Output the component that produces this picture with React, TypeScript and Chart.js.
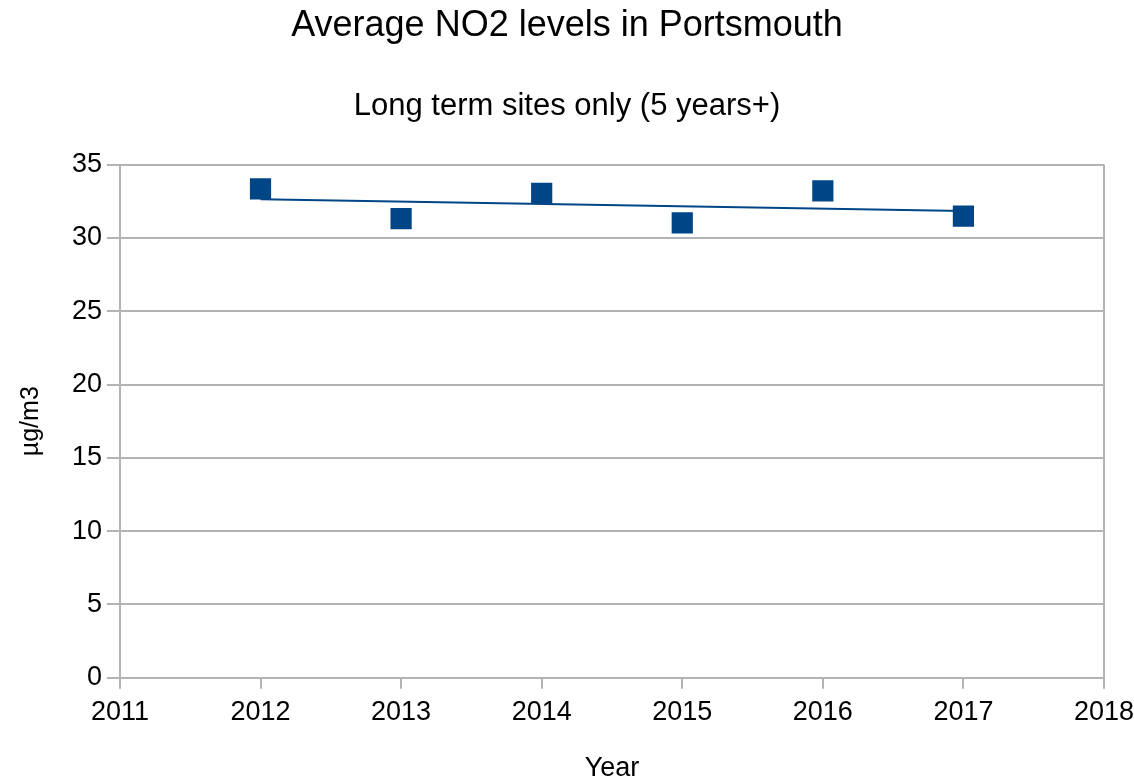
import React, { useEffect, useRef } from "react";
import { Chart, registerables } from "chart.js";

Chart.register(...registerables);

const years = [2012, 2013, 2014, 2015, 2016, 2017];
const no2Values = [33.35, 31.31, 33.04, 31.02, 33.21, 31.48];
const titleText = "Average NO2 levels in Portsmouth";
const subtitleText = "Long term sites only (5 years+)";
const xAxisLabel = "Year";
const yAxisLabel = "µg/m3";

const BLUE = "#004586";
const GRID = "#b3b3b3";
const FONT = "'Liberation Sans', Arial, sans-serif";

function linearTrend(xs: number[], ys: number[]) {
  const n = xs.length;
  const mx = xs.reduce((a, b) => a + b, 0) / n;
  const my = ys.reduce((a, b) => a + b, 0) / n;
  let num = 0;
  let den = 0;
  for (let i = 0; i < n; i++) {
    num += (xs[i] - mx) * (ys[i] - my);
    den += (xs[i] - mx) * (xs[i] - mx);
  }
  const slope = num / den;
  const x0 = xs[0];
  const x1 = xs[n - 1];
  return [
    { x: x0, y: my + slope * (x0 - mx) },
    { x: x1, y: my + slope * (x1 - mx) },
  ];
}

export default function App() {
  const canvasRef = useRef<HTMLCanvasElement | null>(null);

  useEffect(() => {
    document.body.style.margin = "0";
    const canvas = canvasRef.current;
    if (!canvas) return;
    const points = years.map((x, i) => ({ x, y: no2Values[i] }));
    const chart = new Chart(canvas, {
      type: "scatter",
      data: {
        datasets: [
          {
            type: "scatter",
            label: "NO2",
            data: points,
            pointStyle: "rect",
            pointRadius: 15,
            pointHoverRadius: 15,
            backgroundColor: BLUE,
            borderColor: BLUE,
            borderWidth: 0,
            order: 1,
          },
          {
            type: "line",
            label: "Trend",
            data: linearTrend(years, no2Values),
            borderColor: BLUE,
            borderWidth: 2,
            pointRadius: 0,
            fill: false,
            order: 2,
          } as any,
        ],
      },
      options: {
        responsive: false,
        animation: false,
        layout: { padding: { left: 0, right: 0, top: 0, bottom: 0 } },
        plugins: {
          legend: { display: false },
          tooltip: { enabled: false },
          title: {
            display: true,
            text: titleText,
            color: "#000",
            font: { family: FONT, size: 36, weight: "normal" },
            padding: { top: 4.8, bottom: 19 },
          },
          subtitle: {
            display: true,
            text: subtitleText,
            color: "#000",
            font: { family: FONT, size: 31, weight: "normal" },
            padding: { top: 20.4, bottom: 40 },
          },
        },
        scales: {
          x: {
            type: "linear",
            min: 2011,
            max: 2018,
            afterFit: (scale: any) => {
              scale.paddingRight = 30;
            },
            ticks: {
              stepSize: 1,
              color: "#000",
              font: { family: FONT, size: 27 },
              padding: 8,
              maxRotation: 0,
              callback: (v: any) => String(v),
            },
            grid: {
              color: (ctx: any) =>
                ctx.tick && ctx.tick.value === 2018 ? GRID : "rgba(0,0,0,0)",
              tickColor: GRID,
              tickLength: 11,
              lineWidth: 2,
            },
            border: { color: GRID, width: 2 },
            title: {
              display: true,
              text: xAxisLabel,
              color: "#000",
              font: { family: FONT, size: 27, lineHeight: 1 },
              padding: { top: 17.8, bottom: 0 },
            },
          },
          y: {
            type: "linear",
            min: 0,
            max: 35,
            ticks: {
              stepSize: 5,
              color: "#000",
              font: { family: FONT, size: 27 },
              padding: 5,
            },
            grid: {
              color: GRID,
              tickColor: GRID,
              tickLength: 13,
              lineWidth: 2,
            },
            border: { color: GRID, width: 2 },
            title: {
              display: true,
              text: yAxisLabel,
              color: "#000",
              font: { family: FONT, size: 25, lineHeight: 1 },
              padding: { top: 18.5, bottom: 23.4 },
            },
          },
        },
      },
    });
    return () => chart.destroy();
  }, []);

  return <canvas ref={canvasRef} width={1134} height={782} style={{ display: "block" }} />;
}
